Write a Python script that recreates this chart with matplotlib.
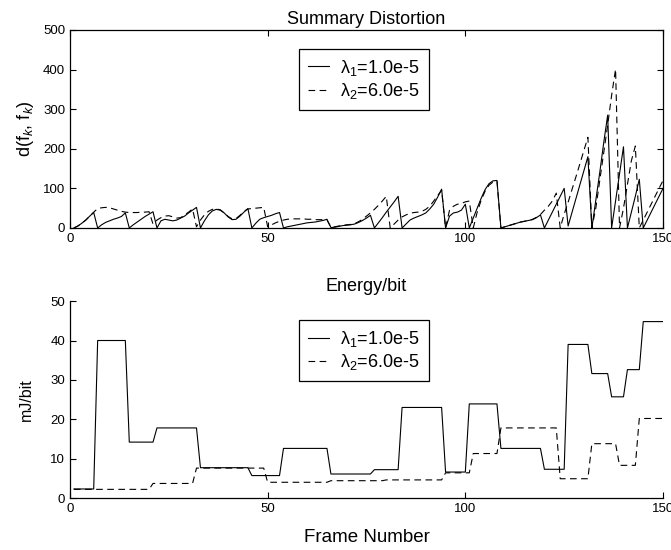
import numpy as np
import matplotlib
matplotlib.use("Agg")
import matplotlib.pyplot as plt

plt.rcParams["font.family"] = ["Liberation Sans", "DejaVu Sans"]
plt.rcParams["mathtext.fontset"] = "custom"
plt.rcParams["mathtext.rm"] = "Liberation Sans"
plt.rcParams["mathtext.it"] = "Liberation Sans:italic"

frames = np.arange(1, 151)

# summary distortion per frame, one list per lambda setting
dist_l1 = [0, 5, 12, 20, 30, 39, 0, 8, 14, 18,
           22, 25, 29, 38, 0, 8, 15, 22, 29, 35,
           41, 0, 18, 22, 20, 18, 20, 25, 30, 38,
           45, 52, 0, 18, 33, 43, 47, 45, 38, 28,
           21, 22, 30, 40, 49, 0, 12, 22, 26, 29,
           32, 36, 39, 0, 3, 5, 7, 9, 11, 13,
           14, 15, 17, 19, 22, 1, 2, 4, 6, 7,
           8, 10, 14, 19, 25, 32, 0, 13, 26, 40,
           53, 66, 80, 0, 10, 20, 25, 29, 33, 38,
           48, 60, 78, 98, 0, 30, 38, 40, 45, 60,
           0, 25, 50, 75, 97, 112, 119, 120, 0, 3,
           6, 9, 12, 15, 17, 19, 21, 26, 33, 0,
           20, 40, 60, 80, 100, 5, 40, 75, 110, 145,
           180, 0, 70, 140, 215, 285, 0, 68, 137, 205,
           0, 40, 80, 123, 0, 20, 40, 60, 80, 100]

dist_l2 = [0, 5, 12, 20, 30, 40, 49, 51, 52, 51,
           48, 45, 42, 40, 39, 39, 39, 40, 40, 41,
           10, 20, 26, 30, 31, 28, 25, 26, 33, 40,
           48, 3, 20, 33, 42, 47, 48, 46, 38, 29,
           23, 24, 32, 42, 48, 49, 50, 51, 52, 3,
           8, 13, 17, 20, 22, 23, 23, 23, 23, 22,
           22, 21, 21, 21, 20, 2, 3, 5, 7, 8,
           9, 11, 16, 22, 30, 38, 47, 57, 68, 80,
           0, 10, 20, 28, 33, 37, 39, 40, 42, 47,
           55, 68, 82, 95, 0, 45, 55, 60, 62, 66,
           68, 0, 40, 70, 93, 108, 116, 118, 0, 3,
           6, 9, 12, 15, 17, 19, 22, 27, 34, 45,
           55, 68, 88, 0, 35, 65, 98, 130, 163, 196,
           229, 0, 50, 120, 190, 260, 335, 401, 0, 50,
           110, 170, 207, 0, 20, 40, 60, 80, 100, 120]

# energy per bit is piecewise constant: level and number of frames it holds
energy_l1_levels = [2.3, 40, 14.2, 17.8, 7.7, 5.7, 12.6, 6.1, 7.2, 23,
                    6.6, 23.9, 12.6, 7.3, 39, 31.6, 25.7, 32.6, 44.8]
energy_l1_runs = [6, 8, 7, 11, 13, 8, 12, 11, 7, 11,
                  6, 8, 11, 6, 6, 5, 4, 4, 6]
energy_l2_levels = [2.2, 3.7, 7.6, 4.0, 4.4, 4.6, 6.4, 11.3, 17.8, 4.9,
                    13.8, 8.3, 20.2]
energy_l2_runs = [20, 11, 18, 16, 14, 15, 7, 7, 15, 8, 7, 5, 7]

energy_l1 = np.repeat(energy_l1_levels, energy_l1_runs)
energy_l2 = np.repeat(energy_l2_levels, energy_l2_runs)

labels = ["\u03bb$_1$=1.0e-5", "\u03bb$_2$=6.0e-5"]
lw = 0.8
dash = (6, 4)

fig = plt.figure(figsize=(6.71, 5.5), dpi=100)
ax1 = fig.add_axes([0.1043, 0.5855, 0.8838, 0.36])
ax2 = fig.add_axes([0.1043, 0.0945, 0.8838, 0.358])

ax1.plot(frames, dist_l1, color="black", lw=lw, label=labels[0])
ax1.plot(frames, dist_l2, color="black", lw=lw, ls="--", dashes=dash, label=labels[1])
ax2.plot(frames, energy_l1, color="black", lw=lw, label=labels[0])
ax2.plot(frames, energy_l2, color="black", lw=lw, ls="--", dashes=dash, label=labels[1])

ax1.set_xlim(0, 150)
ax1.set_ylim(0, 500)
ax1.set_yticks(range(0, 501, 100))
ax1.set_title("Summary Distortion", fontsize=13, pad=4)
ax1.set_ylabel("d(f$_k$, f$_k$)", fontsize=13, labelpad=5)
ax1.tick_params(direction="in", top=True, right=True, length=4, labelsize=9.5, width=0.8)

ax2.set_xlim(0, 150)
ax2.set_ylim(0, 50)
ax2.set_yticks(range(0, 51, 10))
ax2.set_title("Energy/bit", fontsize=13, pad=7)
ax2.set_ylabel("mJ/bit", fontsize=11.5, labelpad=12)
ax2.set_xlabel("Frame Number", fontsize=13.5, labelpad=10)
ax2.tick_params(direction="in", length=4, labelsize=9.5, width=0.8)
ax2.spines["top"].set_visible(False)
ax2.spines["right"].set_visible(False)

for ax in (ax1, ax2):
    ax.set_xticks([0, 50, 100, 150])
    for sp in ax.spines.values():
        sp.set_linewidth(0.9)
    leg = ax.legend(loc="upper left", bbox_to_anchor=(0.386, 0.905), fontsize=13,
                    handlelength=1.15, handletextpad=0.65, borderpad=0.5,
                    labelspacing=0.2, fancybox=False, framealpha=1,
                    edgecolor="black", borderaxespad=0)
    leg.get_frame().set_linewidth(0.9)

fig.savefig("out.png", dpi=100)
